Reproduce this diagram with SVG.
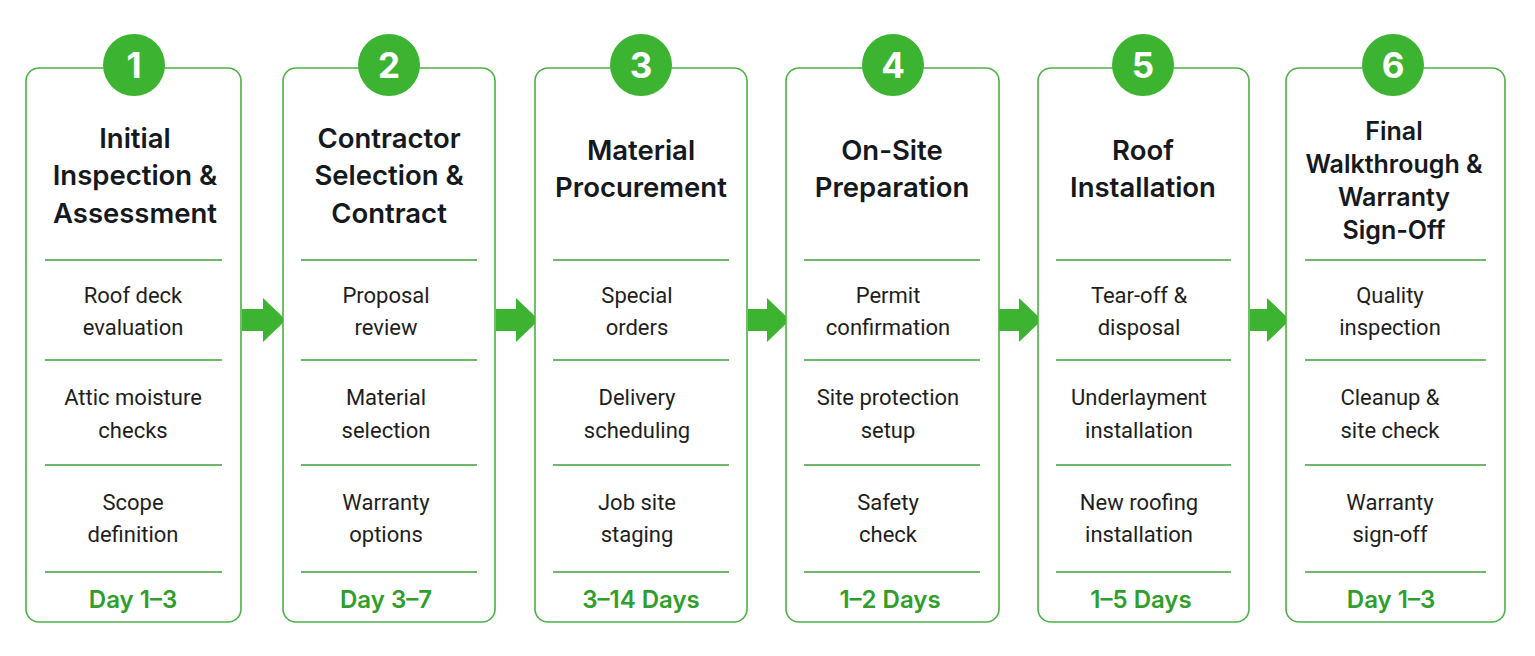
<svg xmlns="http://www.w3.org/2000/svg" width="1535" height="656" viewBox="0 0 1535 656">
<defs>
<style>
.card{fill:#ffffff;stroke:#4db145;stroke-width:1.6}
.div{stroke:#3f9f3a;stroke-width:1.6}
.num{fill:#3db431}
.numt{font-family:Inter,"Liberation Sans",sans-serif;font-weight:700;font-size:35px;fill:#ffffff;text-anchor:middle}
.title{font-family:Inter,"Liberation Sans",sans-serif;font-weight:600;font-size:27.5px;fill:#15191d;text-anchor:middle}
.title6{font-family:Inter,"Liberation Sans",sans-serif;font-weight:600;font-size:25px;fill:#15191d;text-anchor:middle}
.body{font-family:Roboto,"Liberation Sans",sans-serif;font-weight:400;font-size:22px;fill:#1e1e1e;text-anchor:middle}
.day{font-family:Inter,"Liberation Sans",sans-serif;font-weight:600;font-size:24px;fill:#2f9e2b;text-anchor:middle}
.arrow{fill:#3db431}
</style>
</defs>
<rect width="1535" height="656" fill="#ffffff"/>
<g id="connectors">
<polygon class="arrow" points="242,309 263,309 263,298 286,320 263,342 263,331 242,331"/>
<polygon class="arrow" points="496,309 516,309 516,298 539,320 516,342 516,331 496,331"/>
<polygon class="arrow" points="748,309 767,309 767,298 790,320 767,342 767,331 748,331"/>
<polygon class="arrow" points="999,309 1019,309 1019,298 1042,320 1019,342 1019,331 999,331"/>
<polygon class="arrow" points="1250,309 1267,309 1267,298 1290,320 1267,342 1267,331 1250,331"/>
</g>
<g id="node1">
<rect class="card" x="26" y="68" width="215" height="554" rx="13"/>
<circle class="num" cx="134" cy="65" r="31"/>
<text class="numt" x="134" y="78">1</text>
<text class="title" x="135" y="148">Initial</text>
<text class="title" x="135" y="185">Inspection &amp;</text>
<text class="title" x="135" y="223">Assessment</text>
<line class="div" x1="45" y1="260" x2="222" y2="260"/>
<text class="body" x="133" y="303">Roof deck</text>
<text class="body" x="133" y="335">evaluation</text>
<line class="div" x1="45" y1="360" x2="222" y2="360"/>
<text class="body" x="133" y="405">Attic moisture</text>
<text class="body" x="133" y="438">checks</text>
<line class="div" x1="45" y1="465" x2="222" y2="465"/>
<text class="body" x="133" y="510">Scope</text>
<text class="body" x="133" y="542">definition</text>
<line class="div" x1="45" y1="572" x2="222" y2="572"/>
<text class="day" x="133" y="608">Day 1–3</text>
</g>
<g id="node2">
<rect class="card" x="283" y="68" width="212" height="554" rx="13"/>
<circle class="num" cx="389" cy="65" r="31"/>
<text class="numt" x="389" y="78">2</text>
<text class="title" x="389" y="148">Contractor</text>
<text class="title" x="389" y="185">Selection &amp;</text>
<text class="title" x="389" y="223">Contract</text>
<line class="div" x1="301" y1="260" x2="477" y2="260"/>
<text class="body" x="386" y="303">Proposal</text>
<text class="body" x="386" y="335">review</text>
<line class="div" x1="301" y1="360" x2="477" y2="360"/>
<text class="body" x="386" y="405">Material</text>
<text class="body" x="386" y="438">selection</text>
<line class="div" x1="301" y1="465" x2="477" y2="465"/>
<text class="body" x="386" y="510">Warranty</text>
<text class="body" x="386" y="542">options</text>
<line class="div" x1="301" y1="572" x2="477" y2="572"/>
<text class="day" x="386" y="608">Day 3–7</text>
</g>
<g id="node3">
<rect class="card" x="535" y="68" width="212" height="554" rx="13"/>
<circle class="num" cx="641" cy="65" r="31"/>
<text class="numt" x="641" y="78">3</text>
<text class="title" x="641" y="160">Material</text>
<text class="title" x="641" y="197">Procurement</text>
<line class="div" x1="553" y1="260" x2="729" y2="260"/>
<text class="body" x="637" y="303">Special</text>
<text class="body" x="637" y="335">orders</text>
<line class="div" x1="553" y1="360" x2="729" y2="360"/>
<text class="body" x="637" y="405">Delivery</text>
<text class="body" x="637" y="438">scheduling</text>
<line class="div" x1="553" y1="465" x2="729" y2="465"/>
<text class="body" x="637" y="510">Job site</text>
<text class="body" x="637" y="542">staging</text>
<line class="div" x1="553" y1="572" x2="729" y2="572"/>
<text class="day" x="641" y="608">3–14 Days</text>
</g>
<g id="node4">
<rect class="card" x="786" y="68" width="213" height="554" rx="13"/>
<circle class="num" cx="893" cy="65" r="31"/>
<text class="numt" x="893" y="78">4</text>
<text class="title" x="892" y="160">On-Site</text>
<text class="title" x="892" y="197">Preparation</text>
<line class="div" x1="804" y1="260" x2="980" y2="260"/>
<text class="body" x="888" y="303">Permit</text>
<text class="body" x="888" y="335">confirmation</text>
<line class="div" x1="804" y1="360" x2="980" y2="360"/>
<text class="body" x="888" y="405">Site protection</text>
<text class="body" x="888" y="438">setup</text>
<line class="div" x1="804" y1="465" x2="980" y2="465"/>
<text class="body" x="888" y="510">Safety</text>
<text class="body" x="888" y="542">check</text>
<line class="div" x1="804" y1="572" x2="980" y2="572"/>
<text class="day" x="890" y="608">1–2 Days</text>
</g>
<g id="node5">
<rect class="card" x="1038" y="68" width="211" height="554" rx="13"/>
<circle class="num" cx="1143" cy="65" r="31"/>
<text class="numt" x="1143" y="78">5</text>
<text class="title" x="1143" y="160">Roof</text>
<text class="title" x="1143" y="197">Installation</text>
<line class="div" x1="1056" y1="260" x2="1231" y2="260"/>
<text class="body" x="1139" y="303">Tear-off &amp;</text>
<text class="body" x="1139" y="335">disposal</text>
<line class="div" x1="1056" y1="360" x2="1231" y2="360"/>
<text class="body" x="1139" y="405">Underlayment</text>
<text class="body" x="1139" y="438">installation</text>
<line class="div" x1="1056" y1="465" x2="1231" y2="465"/>
<text class="body" x="1139" y="510">New roofing</text>
<text class="body" x="1139" y="542">installation</text>
<line class="div" x1="1056" y1="572" x2="1231" y2="572"/>
<text class="day" x="1141" y="608">1–5 Days</text>
</g>
<g id="node6">
<rect class="card" x="1286" y="68" width="219" height="554" rx="13"/>
<circle class="num" cx="1393" cy="65" r="31"/>
<text class="numt" x="1393" y="78">6</text>
<text class="title6" x="1394" y="140">Final</text>
<text class="title6" x="1394" y="173">Walkthrough &amp;</text>
<text class="title6" x="1394" y="206">Warranty</text>
<text class="title6" x="1394" y="239">Sign-Off</text>
<line class="div" x1="1305" y1="260" x2="1486" y2="260"/>
<text class="body" x="1390" y="303">Quality</text>
<text class="body" x="1390" y="335">inspection</text>
<line class="div" x1="1305" y1="360" x2="1486" y2="360"/>
<text class="body" x="1390" y="405">Cleanup &amp;</text>
<text class="body" x="1390" y="438">site check</text>
<line class="div" x1="1305" y1="465" x2="1486" y2="465"/>
<text class="body" x="1390" y="510">Warranty</text>
<text class="body" x="1390" y="542">sign-off</text>
<line class="div" x1="1305" y1="572" x2="1486" y2="572"/>
<text class="day" x="1391" y="608">Day 1–3</text>
</g>
</svg>
